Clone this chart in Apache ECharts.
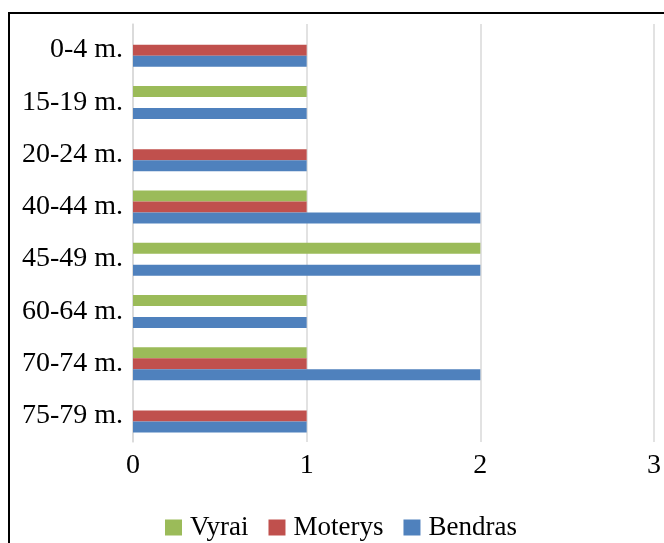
<!DOCTYPE html>
<html>
<head>
<meta charset="utf-8">
<script src="https://cdn.jsdelivr.net/npm/echarts@6/dist/echarts.min.js"></script>
<style>
html,body{margin:0;padding:0;background:#fff;}
#chart{width:664px;height:543px;}
</style>
</head>
<body>
<div id="chart"></div>
<script>
const categories = ['0-4 m.', '15-19 m.', '20-24 m.', '40-44 m.', '45-49 m.', '60-64 m.', '70-74 m.', '75-79 m.'];
const vyrai   = [0, 1, 0, 1, 2, 1, 1, 0];
const moterys = [1, 0, 1, 1, 0, 0, 1, 1];
const bendras = [1, 1, 1, 2, 2, 1, 2, 1];
const xTicks = [0, 1, 2, 3];

const FONT = '"Liberation Serif", "Times New Roman", serif';
const chart = echarts.init(document.getElementById('chart'), null, {renderer: 'canvas'});
chart.setOption({
  animation: false,
  backgroundColor: '#ffffff',
  graphic: [{
    type: 'rect',
    shape: {x: 9, y: 13, width: 800, height: 700},
    style: {fill: 'none', stroke: '#000000', lineWidth: 2},
    silent: true,
    z: 100
  }],
  grid: {left: 133, right: 8, top: 24, bottom: 101, containLabel: false},
  legend: {
    data: ['Vyrai', 'Moterys', 'Bendras'],
    left: 160,
    top: 509,
    itemWidth: 17,
    itemHeight: 16,
    itemGap: 20,
    icon: 'rect',
    textStyle: {fontFamily: FONT, fontSize: 27, color: '#000', padding: [0, 0, 0, 3]}
  },
  xAxis: {
    type: 'value',
    min: xTicks[0],
    max: xTicks[xTicks.length - 1],
    interval: 1,
    axisLine: {show: false},
    axisTick: {show: false},
    splitLine: {show: true, lineStyle: {color: '#d9d9d9', width: 1.5}},
    axisLabel: {fontFamily: FONT, fontSize: 28, color: '#000', margin: 10}
  },
  yAxis: {
    type: 'category',
    data: categories,
    inverse: true,
    axisLine: {show: true, lineStyle: {color: '#d9d9d9', width: 1.5}},
    axisTick: {show: false},
    axisLabel: {fontFamily: FONT, fontSize: 28, color: '#000', margin: 10}
  },
  series: [
    {name: 'Vyrai', type: 'bar', data: vyrai, barWidth: 11, barGap: '0%', itemStyle: {color: '#9BBB59'}},
    {name: 'Moterys', type: 'bar', data: moterys, barWidth: 11, barGap: '0%', itemStyle: {color: '#C0504D'}},
    {name: 'Bendras', type: 'bar', data: bendras, barWidth: 11, barGap: '0%', itemStyle: {color: '#4F81BD'}}
  ]
});
</script>
</body>
</html>
